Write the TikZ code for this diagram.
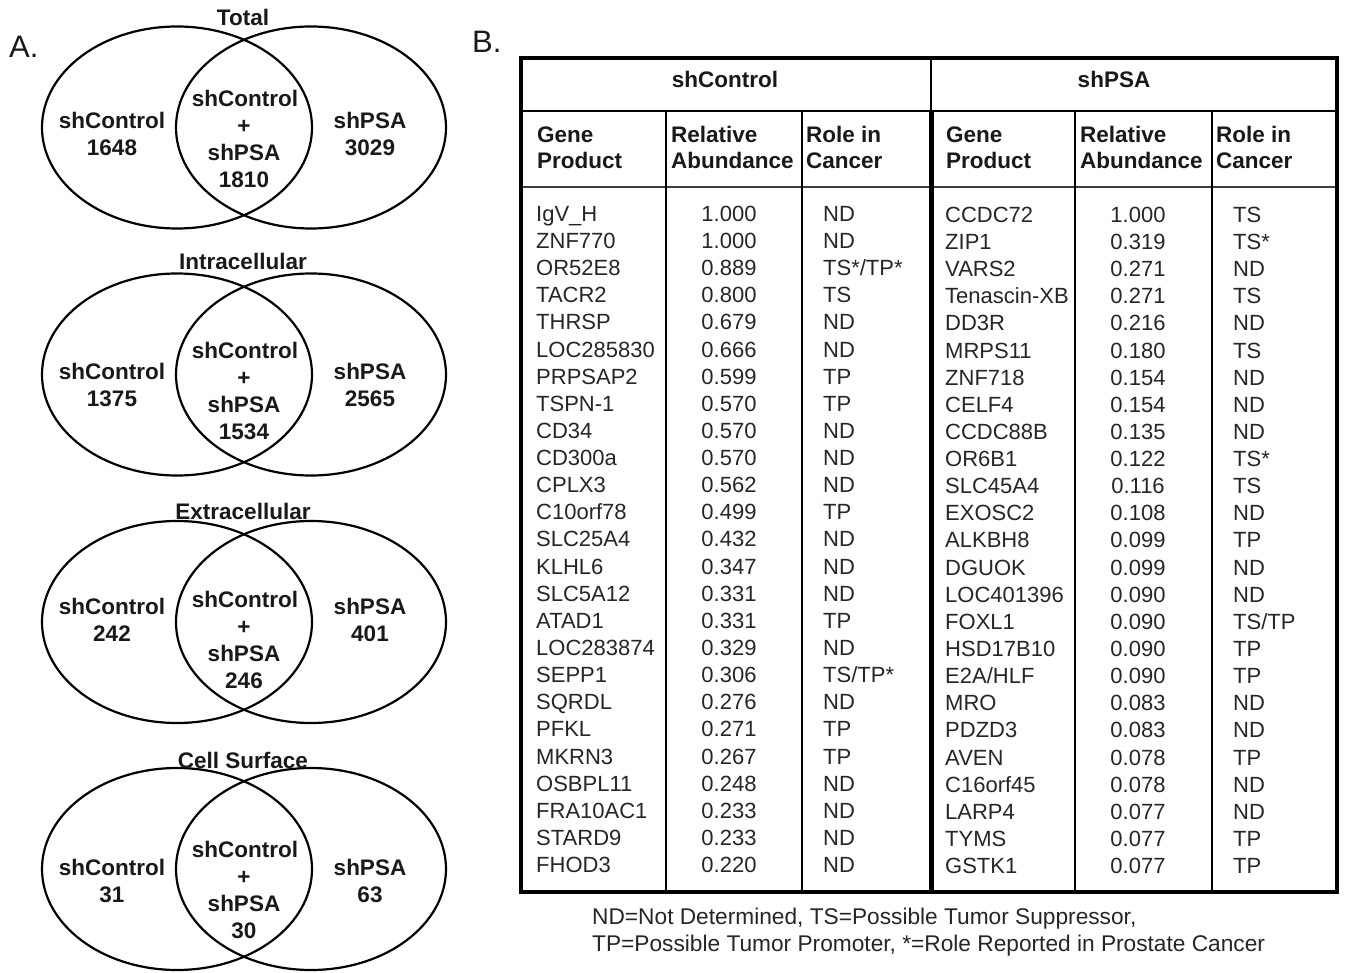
\documentclass[tikz,border=0pt]{standalone}
\usepackage{fontspec}
\setmainfont{Liberation Sans}
\newcommand{\vennd}[9]{%
  \draw[vl] (177,#2) ellipse [x radius=135pt, y radius=101pt];
  \draw[vl] (311,#2) ellipse [x radius=135pt, y radius=101pt];
  \node[vtitle] (#1t) at (243,#4+8) {#3};
  \node[vlab] (#1l1) at (112,#5+8) {shControl};
  \node[vlab] (#1l2) at (112,#5+35) {#7};
  \node[vlab] (#1r1) at (370,#5+8) {shPSA};
  \node[vlab] (#1r2) at (370,#5+35) {#8};
  \node[vlab] (#1m1) at (245,#6+8) {shControl};
  \node[vlab] (#1m2) at (244,#6+35) {+};
  \node[vlab] (#1m3) at (244,#6+62) {shPSA};
  \node[vlab] (#1m4) at (244,#6+89) {#9};
}
\begin{document}
\begin{tikzpicture}[x=1pt,y=-1pt,
  vl/.style={line width=2.2pt},
  vlab/.style={font=\fontsize{22.5}{26}\selectfont\bfseries, text=black!90, anchor=base, inner sep=0pt},
  vtitle/.style={font=\fontsize{22.5}{26}\selectfont\bfseries, text=black!90, anchor=base, inner sep=0pt},
  panel/.style={font=\fontsize{31}{34}\selectfont, text=black!90, anchor=base west, inner sep=0pt},
  hdr/.style={font=\fontsize{22.5}{26}\selectfont\bfseries, text=black!90, anchor=base west, inner sep=0pt},
  hdrc/.style={font=\fontsize{22.5}{26}\selectfont\bfseries, text=black!90, anchor=base, inner sep=0pt},
  bodyw/.style={font=\fontsize{22}{26}\selectfont, text=black!85, anchor=base west, inner sep=0pt},
  bodyc/.style={font=\fontsize{22}{26}\selectfont, text=black!85, anchor=base, inner sep=0pt},
  foot/.style={font=\fontsize{22.7}{26}\selectfont, text=black!85, anchor=base west, inner sep=0pt},
  frame/.style={line width=3.5pt},
  thin/.style={line width=1.5pt}]
\useasboundingbox (0,0) rectangle (1345,973);
\fill[white] (0,0) rectangle (1345,973);

% Panel labels
\node[panel] (pa) at (9,58) {A.};
\node[panel] (pb) at (472,53) {B.};

% Venn diagrams
\vennd{tot}{127.5}{Total}{18}{121}{99}{1648}{3029}{1810}
\vennd{intra}{374.5}{Intracellular}{262}{372}{351}{1375}{2565}{1534}
\vennd{extra}{622}{Extracellular}{512}{606}{599}{242}{401}{246}
\vennd{cell}{869}{Cell Surface}{760}{867}{849}{31}{63}{30}

% Table lines
\draw[line width=1.5pt] (521,111) -- (1337,111);
\draw[line width=2pt, black!75] (521,187) -- (1337,187);
\draw[thin] (666,111) -- (666,892);
\draw[thin] (802,111) -- (802,892);
\draw[thin] (1075,111) -- (1075,892);
\draw[thin] (1212,111) -- (1212,892);
\draw[line width=2.5pt] (931,58) -- (931,111);
\draw[line width=5pt] (931,111) -- (931,892);
\draw[frame] (521,58) rectangle (1337,892);

% Headers
\node[hdrc] (hc) at (725,88) {shControl};
\node[hdrc] (hp) at (1114,88) {shPSA};
\node[hdr] (g1a) at (537,143) {Gene};
\node[hdr] (g1b) at (537,169) {Product};
\node[hdr] (a1a) at (671,143) {Relative};
\node[hdr] (a1b) at (671,169) {Abundance};
\node[hdr] (r1a) at (806,143) {Role in};
\node[hdr] (r1b) at (806,169) {Cancer};
\node[hdr] (g2a) at (946,143) {Gene};
\node[hdr] (g2b) at (946,169) {Product};
\node[hdr] (a2a) at (1080,143) {Relative};
\node[hdr] (a2b) at (1080,169) {Abundance};
\node[hdr] (r2a) at (1216,143) {Role in};
\node[hdr] (r2b) at (1216,169) {Cancer};

% Left body
\foreach \g/\a/\r [count=\k] in {
 IgV\_H/1.000/ND, ZNF770/1.000/ND, OR52E8/0.889/{TS*/TP*}, TACR2/0.800/TS,
 THRSP/0.679/ND, LOC285830/0.666/ND, PRPSAP2/0.599/TP, TSPN-1/0.570/TP,
 CD34/0.570/ND, CD300a/0.570/ND, CPLX3/0.562/ND, C10orf78/0.499/TP,
 SLC25A4/0.432/ND, KLHL6/0.347/ND, SLC5A12/0.331/ND, ATAD1/0.331/TP,
 LOC283874/0.329/ND, SEPP1/0.306/{TS/TP*}, SQRDL/0.276/ND, PFKL/0.271/TP,
 MKRN3/0.267/TP, OSBPL11/0.248/ND, FRA10AC1/0.233/ND, STARD9/0.233/ND,
 FHOD3/0.220/ND}{
  \pgfmathsetmacro{\yy}{213.5+7.9+27.13*(\k-1)}
  \node[bodyw] (lg\k) at (536,\yy) {\g};
  \node[bodyc] (la\k) at (729,\yy) {\a};
  \node[bodyw] (lr\k) at (823,\yy) {\r};
}

% Right body
\foreach \g/\a/\r [count=\k] in {
 CCDC72/1.000/TS, ZIP1/0.319/TS*, VARS2/0.271/ND, Tenascin-XB/0.271/TS,
 DD3R/0.216/ND, MRPS11/0.180/TS, ZNF718/0.154/ND, CELF4/0.154/ND,
 CCDC88B/0.135/ND, OR6B1/0.122/TS*, SLC45A4/0.116/TS, EXOSC2/0.108/ND,
 ALKBH8/0.099/TP, DGUOK/0.099/ND, LOC401396/0.090/ND, FOXL1/0.090/{TS/TP},
 HSD17B10/0.090/TP, {E2A/HLF}/0.090/TP, MRO/0.083/ND, PDZD3/0.083/ND,
 AVEN/0.078/TP, C16orf45/0.078/ND, LARP4/0.077/ND, TYMS/0.077/TP,
 GSTK1/0.077/TP}{
  \pgfmathsetmacro{\yy}{214.5+7.9+27.13*(\k-1)}
  \node[bodyw] (rg\k) at (945,\yy) {\g};
  \node[bodyc] (ra\k) at (1138,\yy) {\a};
  \node[bodyw] (rr\k) at (1233,\yy) {\r};
}

% Footnote
\node[foot] (fn1) at (592,924) {ND=Not Determined, TS=Possible Tumor Suppressor,};
\node[foot] (fn2) at (592,951) {TP=Possible Tumor Promoter, *=Role Reported in Prostate Cancer};
\end{tikzpicture}
\end{document}
